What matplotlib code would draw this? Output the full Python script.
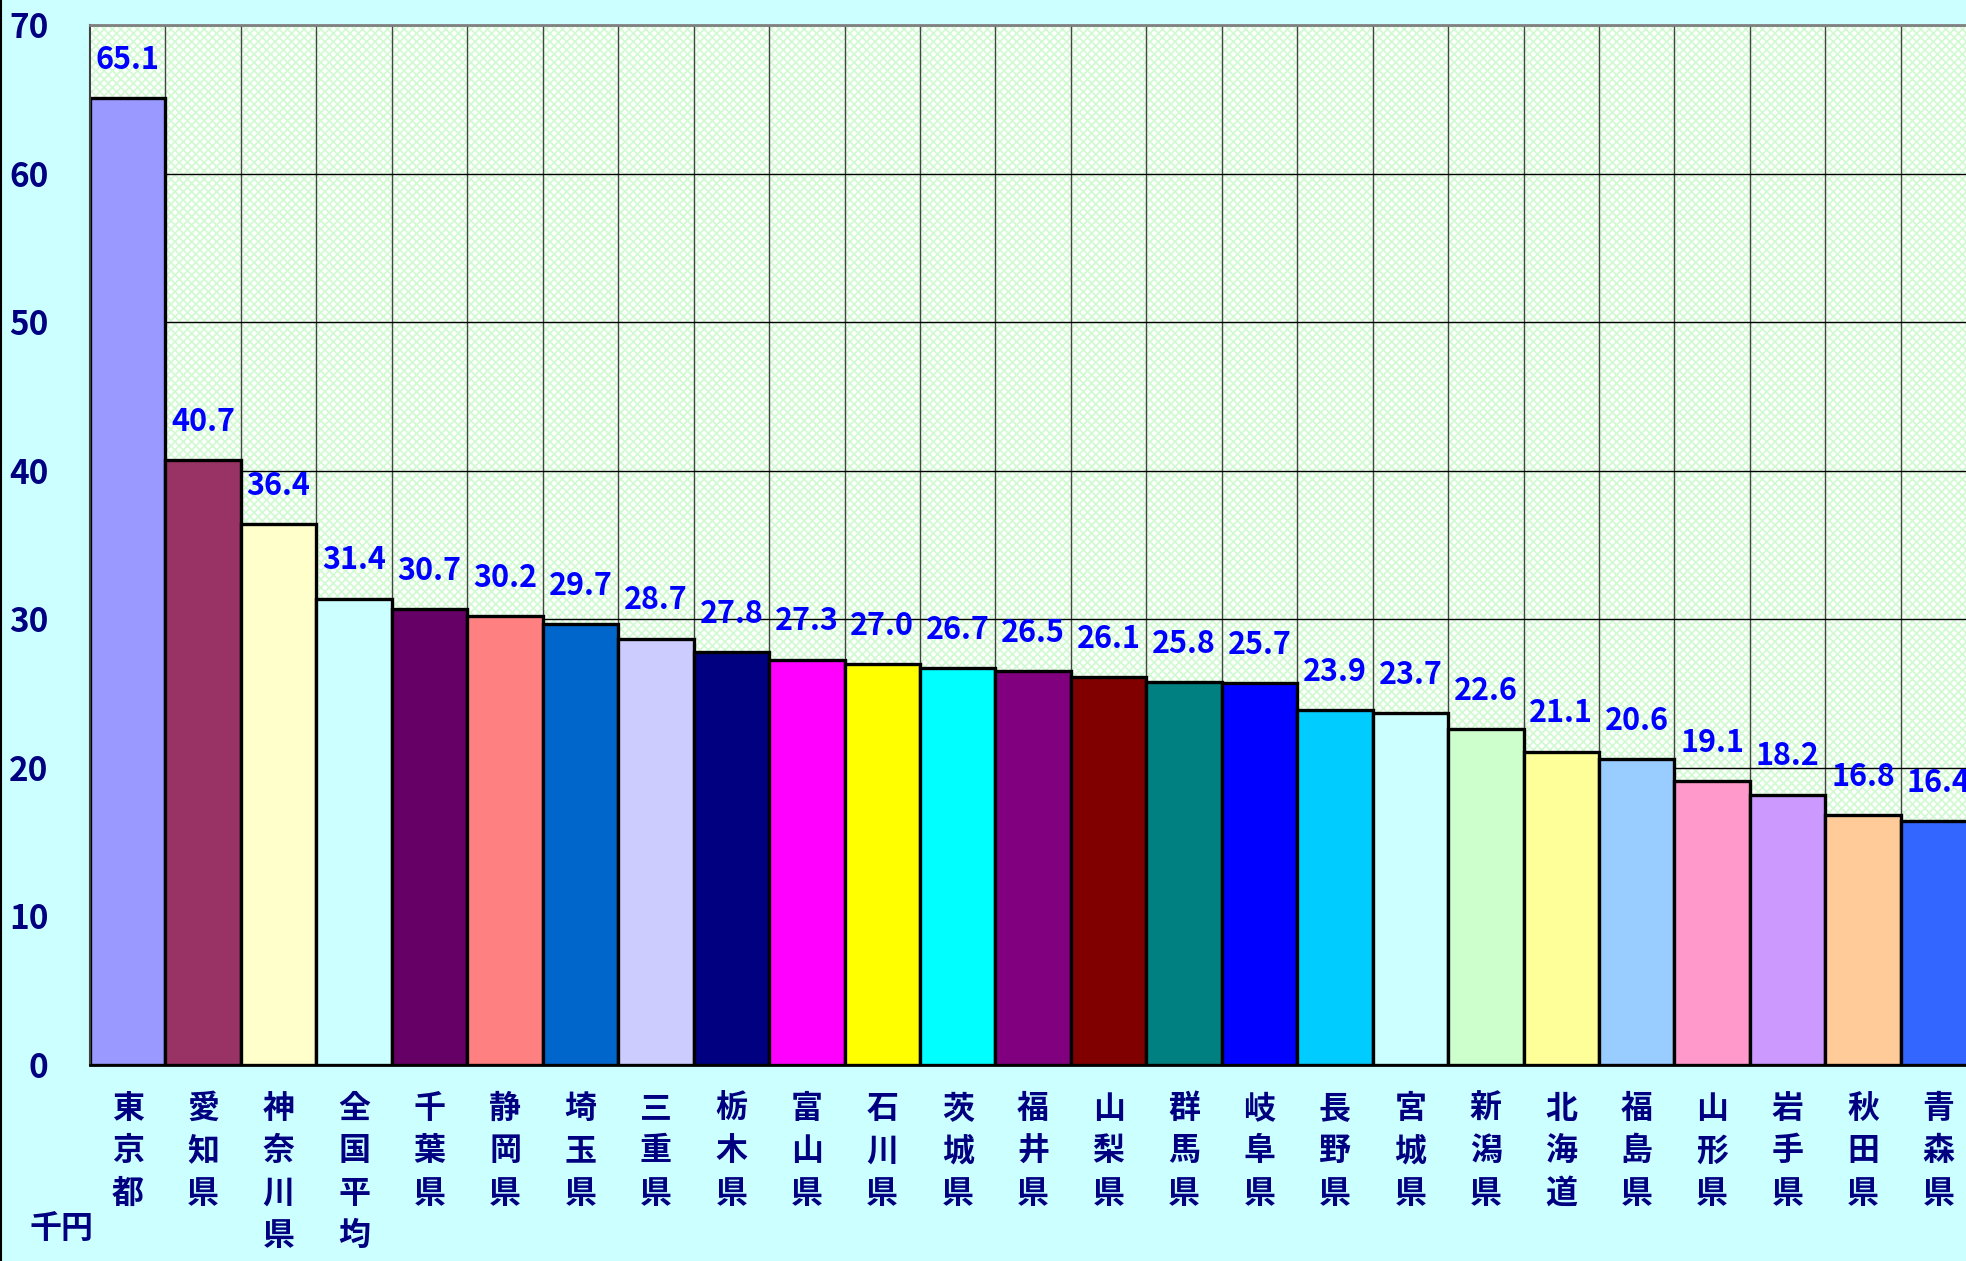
import numpy as np
import matplotlib.pyplot as plt
from matplotlib.patches import Rectangle
from matplotlib.lines import Line2D

plt.rcParams['font.family'] = ['Noto Sans CJK JP', 'DejaVu Sans']
plt.rcParams['font.weight'] = 'bold'
plt.rcParams['hatch.linewidth'] = 1.3

# Data
prefectures = ['東京都', '愛知県', '神奈川県', '全国平均', '千葉県', '静岡県', '埼玉県',
               '三重県', '栃木県', '富山県', '石川県', '茨城県', '福井県', '山梨県',
               '群馬県', '岐阜県', '長野県', '宮城県', '新潟県', '北海道', '福島県',
               '山形県', '岩手県', '秋田県', '青森県']
values = [65.1, 40.7, 36.4, 31.4, 30.7, 30.2, 29.7, 28.7, 27.8, 27.3, 27.0, 26.7, 26.5,
          26.1, 25.8, 25.7, 23.9, 23.7, 22.6, 21.1, 20.6, 19.1, 18.2, 16.8, 16.4]
bar_colors = ['#9999FF', '#993366', '#FFFFCC', '#CCFFFF', '#660066', '#FF8080', '#0066CC',
              '#CCCCFF', '#000080', '#FF00FF', '#FFFF00', '#00FFFF', '#800080', '#800000',
              '#008080', '#0000FF', '#00CCFF', '#CCFFFF', '#CCFFCC', '#FFFF99', '#99CCFF',
              '#FF99CC', '#CC99FF', '#FFCC99', '#3366FF']
y_ticks = [0, 10, 20, 30, 40, 50, 60, 70]
unit_label = '千円'

navy = '#000080'

fig = plt.figure(figsize=(19.66, 12.61), dpi=100)
fig.patch.set_facecolor('#CCFFFF')
ax = fig.add_axes([0.0458, 0.1554, 0.9594, 0.8246])

# plot area: white with pale green diamond pattern
ax.set_facecolor('white')
ax.add_patch(Rectangle((0, 0), 1, 1, transform=ax.transAxes, facecolor='white',
                       edgecolor='#d2fad2', hatch='xxxx', linewidth=0, zorder=0.1))
ax.set_axisbelow(True)

x = np.arange(len(values))
ax.bar(x, values, width=1.0, color=bar_colors, edgecolor='black', linewidth=2.4, zorder=2)

for xi, v in zip(x, values):
    ax.annotate(f'{v:.1f}', (xi, v), xytext=(0, 16), textcoords='offset points',
                ha='center', va='bottom', color='#0000FF', fontsize=22, fontweight='bold',
                zorder=3)

ax.set_xlim(-0.5, len(values) - 0.5)
ax.set_ylim(0, 70)
ax.set_yticks(y_ticks)
ax.set_yticklabels([str(t) for t in y_ticks], fontsize=24, color=navy, fontweight='bold')
ax.tick_params(axis='y', direction='in', length=7, width=1, pad=30, colors='black',
               labelcolor=navy)

ax.set_xticks(x)
ax.set_xticklabels(['\n'.join(p) for p in prefectures], fontsize=23, color=navy,
                   fontweight='bold', linespacing=1.42, va='top')
ax.tick_params(axis='x', length=0, pad=20, labelcolor=navy)
ax.set_xticks(x[:-1] + 0.5, minor=True)
ax.tick_params(axis='x', which='minor', length=0)

ax.grid(axis='y', which='major', color='black', linewidth=1.0)
ax.grid(axis='x', which='minor', color='#444444', linewidth=1.0)

ax.spines['right'].set_visible(False)
ax.spines['top'].set_color('#808080')
ax.spines['top'].set_linewidth(2)
ax.spines['left'].set_color('#404040')
ax.spines['left'].set_linewidth(1.5)
ax.spines['bottom'].set_linewidth(2)

fig.text(0.0312, 0.0125, unit_label, fontsize=23, color=navy, fontweight='bold',
         ha='center', va='bottom')
fig.add_artist(Line2D([0.0005, 0.0005], [0, 1], color='black', linewidth=1.5))

fig.savefig('out.png', dpi=100, facecolor=fig.get_facecolor())
